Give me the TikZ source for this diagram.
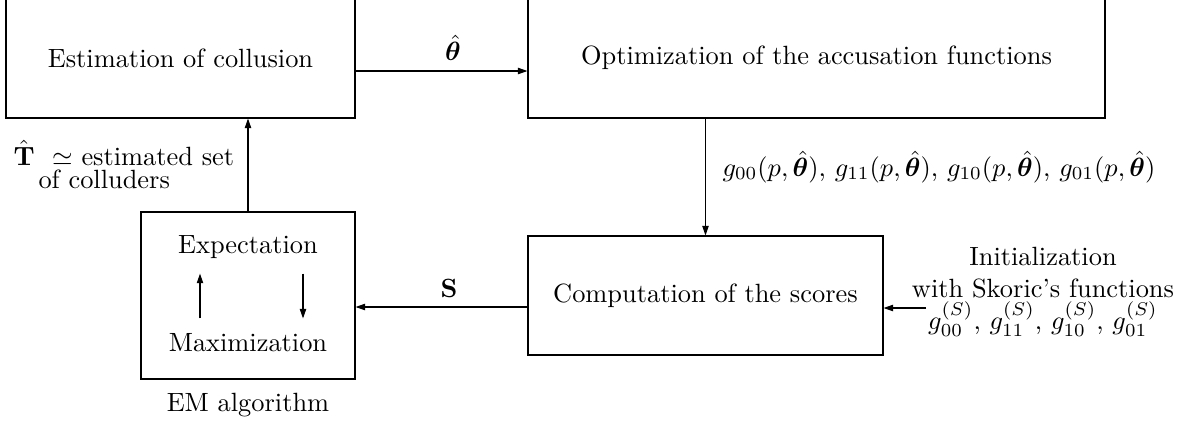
\documentclass[tikz,border=0pt]{standalone}
\usepackage{amsmath,bm}
\usetikzlibrary{arrows.meta,calc}
\newcommand{\pxu}{0.379pt}
\begin{document}
\begin{tikzpicture}[x=0.379pt,y=-0.379pt,
  box/.style={draw,line width=0.4pt,inner sep=0pt,align=center},
  arr/.style={-{Triangle[length=3.6pt,width=2.4pt]},line width=0.4pt},
  lbl/.style={inner sep=0pt}]
\useasboundingbox (0,0) rectangle (1193,423);
% boxes
\node[box,minimum width=349*\pxu,minimum height=120*\pxu] (est) at (180.5,58) {Estimation of collusion};
\node[box,minimum width=577*\pxu,minimum height=120*\pxu] (opt) at (816.5,58) {Optimization of the accusation functions};
\node[box,minimum width=355*\pxu,minimum height=119*\pxu] (comp) at (705.5,295.5) {Computation of the scores};
\node[box,minimum width=214*\pxu,minimum height=167*\pxu] (em) at (248,295.5) {};
% EM contents
\node[lbl,anchor=base] (expe) at (248,253) {Expectation};
\node[lbl,anchor=base] (maxi) at (248,351) {Maximization};
\node[lbl,anchor=base] (emlab) at (248,411) {EM algorithm};
\draw[arr] ($(maxi.north)+(-48,-14)$) -- ($(expe.south)+(-48,15)$);
\draw[arr] ($(expe.south)+(55,15)$) -- ($(maxi.north)+(55,-14)$);
% connectors
\draw[arr] ($(est.east)+(0,13)$) -- ($(opt.west)+(0,13)$);
\node[lbl,anchor=base] (thl) at (453,60) {$\hat{\bm{\theta}}$};
\draw[arr] (comp.north |- opt.south) -- (comp.north);
\node[lbl,anchor=base west] (gl) at (722,176) {$g_{00}(p,\hat{\bm{\theta}})$, $g_{11}(p,\hat{\bm{\theta}})$, $g_{10}(p,\hat{\bm{\theta}})$, $g_{01}(p,\hat{\bm{\theta}})$};
\draw[arr] ($(comp.west)+(0,11.5)$) -- ($(em.east)+(0,11.5)$);
\node[lbl,anchor=base] (sl) at (449,297) {$\mathbf{S}$};
\draw[arr] (em.north) -- (em.north |- est.south);
\node[lbl,anchor=base west] (t1) at (13,165) {$\hat{\mathbf{T}}$\ \ $\simeq$ estimated set};
\node[lbl,anchor=base west] (t2) at (38,188) {of colluders};
\node[lbl,align=center,anchor=north] (init) at (1043,247) {Initialization\\with Skoric's functions\\$g_{00}^{(S)}$, $g_{11}^{(S)}$, $g_{10}^{(S)}$, $g_{01}^{(S)}$};
\coordinate (ia) at (926,308);
\draw[arr] (ia) -- (ia -| comp.east);
\end{tikzpicture}
\end{document}
